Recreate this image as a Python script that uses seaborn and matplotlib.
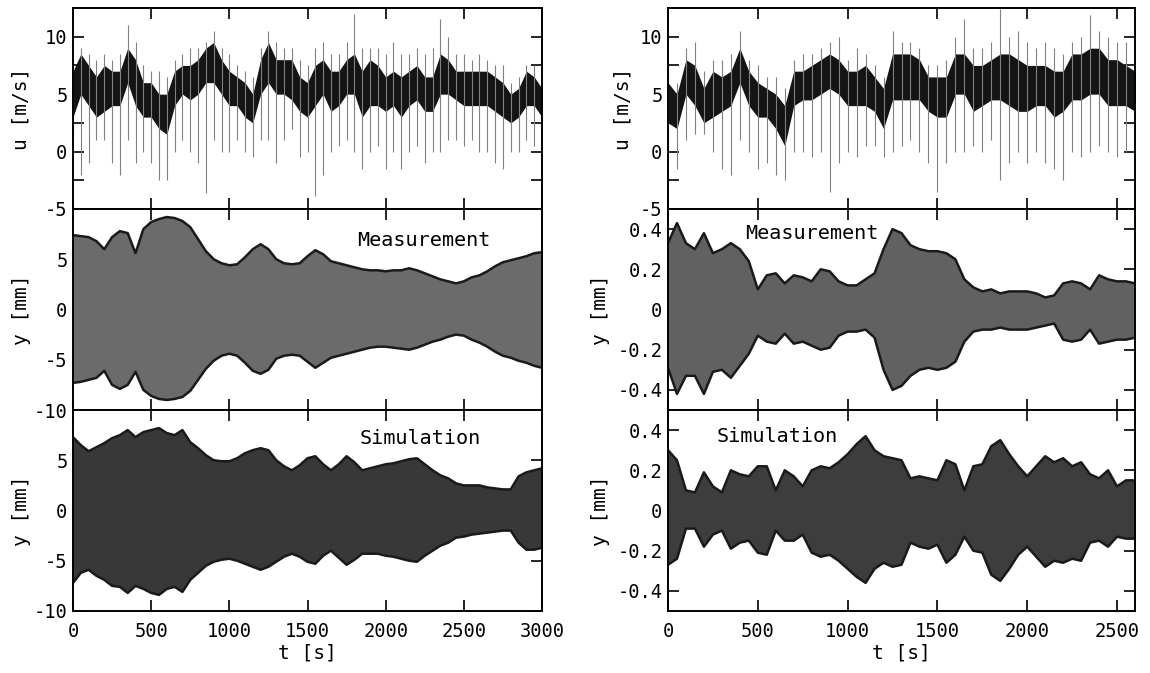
import numpy as np
import matplotlib
import matplotlib.pyplot as plt
import seaborn as sns

matplotlib.use("Agg")

# sampling grids (50 s steps)
t_left = np.arange(0, 3001, 50)
t_right = np.arange(0, 2601, 50)

# wind speed, left record: dense core band and spike extremes
u_left_lo = [3, 5, 4, 3, 3.5, 4, 4, 6, 4, 3, 3, 2, 1.5, 4, 5, 4.5, 5, 6, 6, 5,
             4, 4, 3, 2.5, 5, 6, 5, 5, 4.5, 3.5, 3, 4, 5, 3.5, 4, 5, 5, 3, 4, 4,
             3.5, 4, 3, 4, 4.5, 3.5, 3.5, 5, 5, 4.5, 4, 4, 4, 4, 3.5, 3, 2.5, 3, 4, 4, 3]
u_left_hi = [7, 8.5, 7.5, 6.5, 7.5, 7, 7, 9, 8, 6, 6, 5, 5, 7, 7.5, 7.5, 8, 9, 9.5, 8,
             7, 6.5, 6, 5, 8, 9.5, 8, 8, 8, 6.5, 6, 7.5, 8, 7, 7, 8, 8.5, 7, 8, 7.5,
             6.5, 7, 6.5, 7, 7.5, 6.5, 6.5, 8.5, 8, 7, 7, 7, 7, 7, 6.5, 6, 5, 5.5, 7, 6.5, 5.5]
u_left_min = [1, -2, -1, 1, 1, -1, -2, 1, -1, 0, -1, -2.5, -2.5, 0, 1, 0, -1, -3.6, 1, 0,
              0, 1, 0, -0.5, 1, 1, -1, 1, 2, -0.5, 0, -3.9, -2, 0, 0.5, 1, 0, -1.5, 0, 0.5,
              -1.5, 0, -1.5, 0, 0.5, -1, 0, 0, 1, 1, 0.5, 1, 0, 0, -1, -1.5, 0, 0, 1, 0.5, 1]
u_left_max = [7.5, 9, 8.5, 8, 8.5, 8, 8.5, 11, 9.5, 7.5, 7, 7, 6.5, 8, 8.5, 9, 9, 9.5, 10.5, 9,
              8.5, 7.5, 7, 6.5, 9, 10.5, 9.5, 9, 9, 8, 7.5, 9, 9.5, 8.5, 8.5, 9.5, 12, 9, 9, 9,
              8.5, 9.5, 8.5, 8.5, 9, 8.5, 9, 11.5, 10, 8.5, 8.5, 8, 8.5, 8, 7.5, 7.5, 6, 6.5, 7.5, 7.5, 6.5]

# wind speed, right record
u_right_lo = [2.5, 2, 5, 4, 2.5, 3, 3.5, 4, 6, 4, 3, 3, 2, 0.5, 4, 4.5, 4.5, 5, 5.5, 5,
              4, 4, 4, 3.5, 2, 4.5, 4.5, 4.5, 4.5, 3.5, 3, 3, 5, 5, 3.5, 4, 4.5, 4.5, 4, 3.5,
              3.5, 4, 4, 3, 3.5, 4.5, 4.5, 5, 5, 4, 4, 4, 3.5]
u_right_hi = [6, 5, 8, 7.5, 5.5, 7, 6.5, 7, 9, 7, 6, 5.5, 5, 4, 7, 7, 7.5, 8, 8.5, 8,
              7, 7, 7.5, 6.5, 5.5, 8.5, 8.5, 8.5, 8, 6.5, 6.5, 6.5, 8.5, 8.5, 7.5, 7.5, 8, 8.5, 8.5, 8,
              7.5, 7.5, 7.5, 7, 7, 8.5, 8.5, 9, 9, 8, 8, 7.5, 7]
u_right_min = [0, -1.5, 1, 1.5, 1.5, 0, -1.5, -2, 1, 0, -1.5, -1, -2, -2.5, 0, 0, -0.5, 0, -3.5, -1,
               0, -0.5, 0.5, 0.5, -0.5, 0, 0.5, 1, 0, -1, -3.5, -1, 0, 0, 0.5, 0, 1, -2.5, -1, 0,
               -1, 0, -1, -1.5, -2.5, 0, -0.5, 0, 0.5, 0, -0.5, 0, 0]
u_right_max = [7.5, 6, 9, 9.5, 7, 8, 8, 8.5, 10.5, 8, 7.5, 6.5, 6.5, 5.5, 8, 8.5, 8.5, 9, 9.5, 10,
               8, 9, 8.5, 7.5, 6.5, 10.5, 9.5, 9.5, 9, 7.5, 7.5, 8, 10, 11.5, 9, 9, 9.5, 12.4, 10, 10.5,
               9.5, 9, 9.5, 9, 8.5, 9.5, 10, 11.9, 10.5, 10, 9.5, 9.5, 9]

# measured displacement envelopes
y_meas_left_hi = [7.4, 7.3, 7.2, 6.8, 6.0, 7.2, 7.8, 7.6, 5.6, 8.0, 8.7, 9.0, 9.2, 9.1, 8.8, 8.2,
                  7.0, 5.8, 5.0, 4.6, 4.4, 4.5, 5.2, 6.0, 6.5, 6.0, 5.0, 4.6, 4.5, 4.6, 5.3, 5.9,
                  5.5, 4.8, 4.6, 4.4, 4.2, 4.0, 3.9, 3.9, 3.8, 3.9, 3.9, 4.1, 3.9, 3.6, 3.3, 3.0,
                  2.8, 2.6, 2.8, 3.2, 3.4, 3.8, 4.3, 4.7, 4.9, 5.1, 5.3, 5.6, 5.7]
y_meas_left_lo = [-7.3, -7.2, -7.0, -6.8, -6.1, -7.5, -7.9, -7.5, -6.2, -8.0, -8.6, -8.9, -9.0, -8.9,
                  -8.7, -8.1, -7.0, -5.9, -5.1, -4.6, -4.4, -4.6, -5.3, -6.1, -6.4, -6.0, -4.9, -4.6,
                  -4.5, -4.6, -5.2, -5.8, -5.3, -4.8, -4.6, -4.4, -4.2, -4.0, -3.8, -3.7, -3.7, -3.8,
                  -3.9, -4.0, -3.8, -3.5, -3.2, -3.0, -2.7, -2.5, -2.6, -3.0, -3.3, -3.7, -4.2, -4.6,
                  -4.8, -5.1, -5.3, -5.6, -5.8]
y_meas_right_hi = [0.33, 0.43, 0.33, 0.30, 0.38, 0.28, 0.30, 0.33, 0.30, 0.24, 0.10, 0.17, 0.18,
                   0.13, 0.17, 0.16, 0.14, 0.20, 0.19, 0.14, 0.12, 0.12, 0.15, 0.18, 0.30, 0.40,
                   0.38, 0.32, 0.30, 0.29, 0.29, 0.28, 0.25, 0.15, 0.11, 0.09, 0.10, 0.08, 0.09,
                   0.09, 0.09, 0.08, 0.06, 0.07, 0.13, 0.14, 0.13, 0.10, 0.17, 0.15, 0.14, 0.14, 0.13]
y_meas_right_lo = [-0.29, -0.42, -0.33, -0.33, -0.42, -0.31, -0.30, -0.34, -0.28, -0.22, -0.13,
                   -0.16, -0.17, -0.12, -0.17, -0.16, -0.18, -0.20, -0.19, -0.13, -0.11, -0.11,
                   -0.10, -0.14, -0.30, -0.40, -0.38, -0.33, -0.30, -0.29, -0.30, -0.29, -0.26,
                   -0.16, -0.11, -0.10, -0.10, -0.09, -0.10, -0.10, -0.10, -0.09, -0.08, -0.07,
                   -0.15, -0.16, -0.15, -0.10, -0.17, -0.16, -0.15, -0.15, -0.14]

# simulated displacement envelopes
y_sim_left_hi = [7.3, 6.5, 5.9, 6.3, 6.7, 7.2, 7.5, 8.0, 7.3, 7.8, 8.0, 8.2, 7.7, 7.5, 8.0, 6.8,
                 6.2, 5.5, 5.0, 4.9, 4.9, 5.2, 5.7, 6.0, 6.2, 6.0, 5.0, 4.4, 4.0, 4.5, 5.2, 5.4,
                 4.6, 4.0, 4.6, 5.4, 4.8, 4.0, 4.2, 4.4, 4.6, 4.7, 4.9, 5.1, 5.2, 4.6, 4.0, 3.5,
                 3.2, 2.7, 2.5, 2.5, 2.5, 2.3, 2.2, 2.1, 2.1, 3.4, 3.8, 4.0, 4.2]
y_sim_left_lo = [-7.2, -6.2, -5.9, -6.5, -6.9, -7.5, -7.6, -8.2, -7.5, -7.8, -8.2, -8.4, -7.8, -7.6,
                 -8.1, -6.9, -6.2, -5.5, -5.1, -4.9, -4.8, -5.0, -5.3, -5.6, -5.9, -5.6, -5.1, -4.6,
                 -4.3, -4.6, -5.1, -5.3, -4.5, -4.0, -4.7, -5.4, -4.9, -4.3, -4.3, -4.3, -4.5, -4.6,
                 -4.8, -5.0, -5.1, -4.5, -4.0, -3.5, -3.2, -2.7, -2.6, -2.4, -2.3, -2.2, -2.1, -2.0,
                 -2.0, -3.2, -3.9, -3.9, -3.7]
y_sim_right_hi = [0.30, 0.25, 0.10, 0.09, 0.19, 0.12, 0.09, 0.20, 0.18, 0.17, 0.22, 0.22, 0.10,
                  0.20, 0.17, 0.12, 0.20, 0.22, 0.21, 0.24, 0.28, 0.33, 0.37, 0.30, 0.27, 0.26,
                  0.25, 0.16, 0.17, 0.16, 0.15, 0.25, 0.23, 0.10, 0.22, 0.23, 0.32, 0.35, 0.28,
                  0.22, 0.17, 0.22, 0.27, 0.24, 0.26, 0.22, 0.24, 0.18, 0.16, 0.20, 0.12, 0.15, 0.15]
y_sim_right_lo = [-0.27, -0.24, -0.09, -0.09, -0.18, -0.12, -0.10, -0.19, -0.16, -0.15, -0.21,
                  -0.22, -0.10, -0.15, -0.15, -0.12, -0.21, -0.23, -0.22, -0.25, -0.29, -0.33,
                  -0.36, -0.29, -0.26, -0.28, -0.27, -0.16, -0.18, -0.19, -0.17, -0.26, -0.22,
                  -0.13, -0.20, -0.21, -0.32, -0.35, -0.29, -0.22, -0.18, -0.23, -0.28, -0.25,
                  -0.26, -0.24, -0.25, -0.16, -0.15, -0.18, -0.13, -0.14, -0.14]

u_ticks = [-5, -2.5, 0, 2.5, 5, 7.5, 10]
u_ticklabels = ["-5", "", "0", "", "5", "", "10"]
y_left_ticks = [-10, -5, 0, 5]
y_right_ticks = [-0.4, -0.2, 0, 0.2, 0.4]
y_right_ticklabels = ["-0.4", "-0.2", "0", "0.2", "0.4"]

sns.set_theme(style="ticks")
plt.rcParams["font.family"] = ["DejaVu Sans Mono", "DejaVu Sans"]
plt.rcParams["axes.unicode_minus"] = False
plt.rcParams["text.color"] = "black"
plt.rcParams["axes.labelcolor"] = "black"

W, H = 1150, 673
fig = plt.figure(figsize=(W / 100, H / 100), dpi=100)


def panel(x0, x1, y0, y1):
    return fig.add_axes([x0 / W, 1 - y1 / H, (x1 - x0) / W, (y1 - y0) / H])


def style(ax, xmax, ylim, ticks, labels, bottom):
    ax.set_xlim(0, xmax)
    ax.set_ylim(*ylim)
    ax.set_xticks(np.arange(0, xmax + 1, 500))
    ax.set_yticks(ticks)
    ax.set_yticklabels(labels)
    ax.tick_params(direction="in", top=True, right=True, length=8, width=1.2,
                   labelsize=13.5, colors="black")
    ax.tick_params(axis="x", pad=8)
    ax.tick_params(axis="y", pad=4)
    if not bottom:
        ax.tick_params(labelbottom=False)
    for s in ax.spines.values():
        s.set_linewidth(1.4)
        s.set_color("black")


def draw_u(ax, t, lo, hi, umin, umax):
    ax.vlines(t, umin, umax, color="0.5", lw=0.8)
    ax.fill_between(t, lo, hi, color="0.08", lw=0)


def draw_y(ax, t, lo, hi, fill):
    ax.fill_between(t, lo, hi, color=fill, lw=0)
    sns.lineplot(x=t, y=hi, ax=ax, color="0.1", lw=1.8)
    sns.lineplot(x=t, y=lo, ax=ax, color="0.1", lw=1.8)


# (left px, right px, t max, grid, u-label x, y-label x)
cols = [(73, 542, 3000, t_left, -0.09, -0.09), (668, 1135, 2600, t_right, -0.077, -0.124)]
rows = [(8, 209), (209, 410), (410, 611)]

u_data = [(u_left_lo, u_left_hi, u_left_min, u_left_max),
          (u_right_lo, u_right_hi, u_right_min, u_right_max)]
meas = [(y_meas_left_lo, y_meas_left_hi), (y_meas_right_lo, y_meas_right_hi)]
sim = [(y_sim_left_lo, y_sim_left_hi), (y_sim_right_lo, y_sim_right_hi)]

for i, (x0, x1, xmax, t, ulab_x, ylab_x) in enumerate(cols):
    ax_u = panel(x0, x1, *rows[0])
    ax_m = panel(x0, x1, *rows[1])
    ax_s = panel(x0, x1, *rows[2])

    draw_u(ax_u, t, *u_data[i])
    style(ax_u, xmax, (-5, 12.5), u_ticks, u_ticklabels, False)
    ax_u.set_ylabel("u [m/s]", fontsize=14)
    ax_u.yaxis.set_label_coords(ulab_x, 0.5)

    if i == 0:
        draw_y(ax_m, t, *meas[i], "0.42")
        draw_y(ax_s, t, *sim[i], "0.22")
        style(ax_m, xmax, (-10, 10), y_left_ticks, [str(v) for v in y_left_ticks], False)
        style(ax_s, xmax, (-10, 10), y_left_ticks, [str(v) for v in y_left_ticks], True)
        ax_m.text(2242, 6.9, "Measurement", ha="center", va="center", fontsize=14.5)
        ax_s.text(2223, 7.2, "Simulation", ha="center", va="center", fontsize=14.5)
    else:
        draw_y(ax_m, t, *meas[i], "0.38")
        draw_y(ax_s, t, *sim[i], "0.24")
        style(ax_m, xmax, (-0.5, 0.5), y_right_ticks, y_right_ticklabels, False)
        style(ax_s, xmax, (-0.5, 0.5), y_right_ticks, y_right_ticklabels, True)
        ax_m.text(800, 0.38, "Measurement", ha="center", va="center", fontsize=14.5)
        ax_s.text(611, 0.366, "Simulation", ha="center", va="center", fontsize=14.5)

    ax_m.set_ylabel("y [mm]", fontsize=14)
    ax_s.set_ylabel("y [mm]", fontsize=14)
    ax_s.set_xlabel("t [s]", fontsize=14, labelpad=2)
    for ax in (ax_m, ax_s):
        ax.yaxis.set_label_coords(ylab_x, 0.5)

fig.savefig("out.png", dpi=100)
